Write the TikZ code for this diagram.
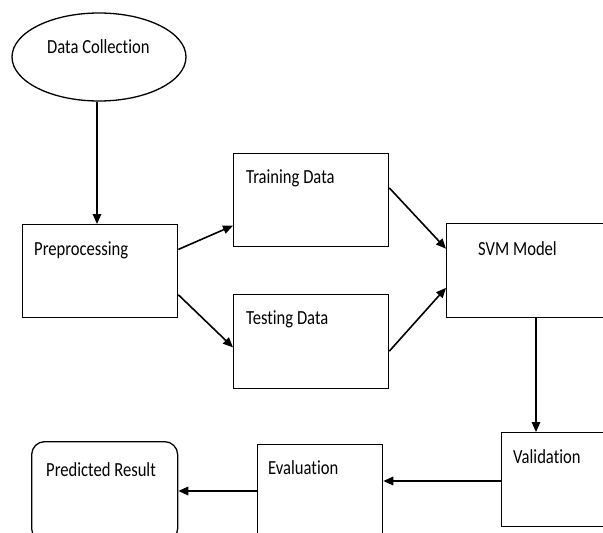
\documentclass[tikz,border=0pt]{standalone}
\usepackage{fontspec}
\setmainfont[FakeStretch=0.83,Ligatures=NoCommon]{Carlito}
\usetikzlibrary{arrows.meta,calc,shapes.geometric}
\tikzset{
  box/.style={draw, line width=1.3pt, rectangle, anchor=north west, inner sep=0pt},
  oval/.style={draw, line width=1.3pt, ellipse, inner sep=0pt},
  lbl/.style={anchor=base west, inner sep=0pt, font=\fontsize{20}{22}\selectfont},
  conn/.style={line width=1.6pt, -{Triangle[length=10pt,width=8.5pt]}}
}
\begin{document}
\begin{tikzpicture}[x=1pt,y=1pt]
\useasboundingbox (0,0) rectangle (603,-533);
\clip (0,0) rectangle (603,-533);
\fill[white] (0,0) rectangle (603,-533);
% shapes
\node[oval, minimum width=174pt, minimum height=88pt] (dc) at (99,-57) {};
\node[box, minimum width=155pt, minimum height=93pt] (pre) at (22,-224) {};
\node[box, minimum width=155pt, minimum height=93pt] (train) at (233,-153) {};
\node[box, minimum width=155pt, minimum height=94pt] (test) at (233,-294) {};
\node[box, minimum width=170pt, minimum height=94pt] (svm) at (446,-223) {};
\node[box, minimum width=120pt, minimum height=94pt] (val) at (501,-432) {};
\node[box, minimum width=125pt, minimum height=100pt] (eval) at (257,-444) {};
\node[box, rounded corners=13pt, minimum width=146pt, minimum height=100pt] (pred) at (31,-441) {};
% labels
\node[lbl] (tdc) at (47,-53) {Data Collection};
\node[lbl] (tpre) at (34,-255) {Preprocessing};
\node[lbl] (ttrain) at (246,-183) {Training Data};
\node[lbl] (ttest) at (246,-324) {Testing Data};
\node[lbl] (tsvm) at (478,-255) {SVM Model};
\node[lbl] (tval) at (513,-463) {Validation};
\node[lbl] (teval) at (268,-474) {Evaluation};
\node[lbl] (tpred) at (46,-476) {Predicted Result};
% connectors
\coordinate (dcout) at ($(dc.south)+(-2,0)$);
\draw[conn] (dcout) -- (dcout |- pre.north);
\draw[conn] ($(pre.north east)!0.27!(pre.south east)$) -- ($(train.north west)!0.77!(train.south west)$);
\draw[conn] ($(pre.north east)!0.75!(pre.south east)$) -- ($(test.north west)!0.56!(test.south west)$);
\draw[conn] ($(train.north east)!0.37!(train.south east)$) -- ($(svm.north west)!0.27!(svm.south west)$);
\draw[conn] ($(test.north east)!0.60!(test.south east)$) -- ($(svm.north west)!0.68!(svm.south west)$);
\coordinate (vin) at ($(val.north west)+(35,0)$);
\draw[conn] (vin |- svm.south) -- (vin);
\coordinate (vout) at ($(val.north west)+(0,-49)$);
\draw[conn] (vout) -- (vout -| eval.east);
\coordinate (eout) at ($(eval.north west)+(0,-47)$);
\draw[conn] (eout) -- (eout -| pred.east);
\end{tikzpicture}
\end{document}
